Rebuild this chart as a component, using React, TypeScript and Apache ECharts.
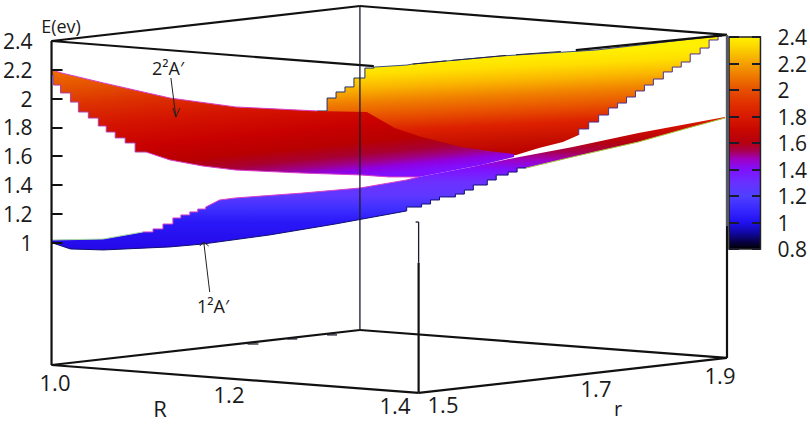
import React, { useEffect, useRef } from "react";
import * as echarts from "echarts";

type Pt = number[];

// Energy ticks on the vertical axis and on the colour box
const energyTicks = [1, 1.2, 1.4, 1.6, 1.8, 2, 2.2, 2.4];
const colorTicks = [0.8, 1, 1.2, 1.4, 1.6, 1.8, 2, 2.2, 2.4];
const bigRLabels = ["1.0", "1.2", "1.4"];
const smallRLabels = ["1.5", "1.7", "1.9"];

// Colour palette of the box: [energy, colour]
const palette: [number, string][] = [
  [2.4, "#fff200"], [2.33, "#fcd800"], [2.2, "#f4a000"], [2.1, "#ee7800"], [2.0, "#e65000"],
  [1.9, "#e03000"], [1.8, "#d81a00"], [1.7, "#c80800"], [1.6, "#b40010"], [1.54, "#a80050"],
  [1.48, "#a000c0"], [1.4, "#8010ff"], [1.3, "#6830ff"], [1.2, "#5040ff"], [1.1, "#3828ff"],
  [1.0, "#2010f0"], [0.92, "#1008a0"], [0.85, "#080040"], [0.8, "#000000"],
];

// Upper surface, rear sheet: [view position, energy]
const rearLeftSteps: Pt[] = [[315, 1.914], [325, 2.004], [334, 2.046], [343, 2.081], [352, 2.143], [363, 2.212], [372, 2.219]];
const rearTop: Pt[] = [[372, 2.219], [405, 2.233], [411, 2.24], [500, 2.296], [595, 2.337], [700, 2.421], [722, 2.435]];
const rearRightSteps: Pt[] = [
  [722, 2.435], [718, 2.407], [709, 2.351], [700, 2.31], [690, 2.254], [681, 2.219], [672, 2.185], [663, 2.136],
  [653, 2.094], [644, 2.053], [635, 2.011], [626, 1.969], [617, 1.935], [608, 1.886], [598, 1.837], [588, 1.789], [578, 1.747],
];
const rearBottom: Pt[] = [[578, 1.747], [562, 1.699], [538, 1.657], [515, 1.608]];
const rearHidden: Pt[] = [[480, 1.588], [315, 1.643]];
const rearStops: [number, string][] = [
  [2.268, "#fff000"], [2.185, "#ffe000"], [2.095, "#fbb800"], [1.991, "#f08000"],
  [1.886, "#e85000"], [1.782, "#dc2000"], [1.678, "#c81000"], [1.574, "#b80000"],
];

// Upper surface, front sheet
const frontTopLeft: Pt[] = [[48, 2.199], [58, 2.178], [100, 2.109], [167, 2.004], [233, 1.942], [315, 1.914]];
const frontFold: Pt[] = [[315, 1.914], [365, 1.907], [393, 1.796], [420, 1.733], [460, 1.664], [487, 1.636], [513, 1.615], [513, 1.595], [480, 1.539], [417, 1.456]];
const frontBottom: Pt[] = [[417, 1.456], [387, 1.456], [358, 1.47], [300, 1.483], [233, 1.504], [200, 1.532], [167, 1.574], [143, 1.629]];
const frontLeftSteps: Pt[] = [
  [143, 1.629], [132, 1.692], [122, 1.727], [112, 1.768], [103, 1.81], [95, 1.865], [85, 1.907], [75, 1.976], [67, 2.039], [57, 2.094], [50, 2.164], [48, 2.199],
];
const frontStops: [number, string][] = [
  [2.407, "#ee7000"], [2.268, "#e45000"], [2.143, "#dc3000"], [1.991, "#d41400"], [1.817, "#c80000"],
  [1.692, "#b80000"], [1.608, "#a80030"], [1.553, "#a00080"], [1.504, "#9000e0"], [1.449, "#8010ff"],
];

// Lower surface
const lowerTopLeft: Pt[] = [[48, 1.018], [100, 1.025], [140, 1.074]];
const lowerTopSteps: Pt[] = [[140, 1.074], [150, 1.095], [160, 1.129], [170, 1.171], [178, 1.192], [187, 1.213], [195, 1.233], [203, 1.247]];
const lowerTopMid: Pt[] = [[203, 1.247], [217, 1.296], [233, 1.31], [300, 1.344], [358, 1.379], [405, 1.435], [417, 1.456]];
const lowerTail: Pt[] = [[417, 1.456], [470, 1.525], [513, 1.588], [572, 1.664], [638, 1.761], [725, 1.872]];
const lowerTailUnder: Pt[] = [[725, 1.865], [688, 1.796], [638, 1.699], [572, 1.595], [525, 1.518]];
const lowerUnderSteps: Pt[] = [
  [525, 1.518], [516, 1.49], [507, 1.469], [495, 1.435], [486, 1.4], [472, 1.365], [463, 1.337], [454, 1.317], [438, 1.296], [429, 1.268], [420, 1.247], [405, 1.22],
];
const lowerUnder: Pt[] = [[405, 1.22], [333, 1.129], [267, 1.053], [200, 0.99], [167, 0.97], [100, 0.949], [67, 0.956], [48, 1.0]];
const lowerStops: [number, string][] = [
  [1.872, "#d81a00"], [1.782, "#cc0c00"], [1.692, "#b40010"], [1.629, "#a80050"], [1.574, "#a000c0"], [1.511, "#8010ff"],
  [1.421, "#6c30ff"], [1.331, "#6038ff"], [1.24, "#4030ff"], [1.143, "#2a18f8"], [0.949, "#2408e8"],
];

// Box edges: [view position, energy] pairs
const boxHeavy: Pt[][] = [
  [[48, 0.15], [417, -0.044]], [[417, -0.044], [727, 0.199]], [[48, 0.15], [358, 0.393]], [[358, 0.393], [727, 0.199]],
  [[48, 2.4], [48, 0.15]], [[727, 1.115], [727, 0.199]], [[417, 0.86], [417, -0.044]],
  [[48, 2.4], [358, 2.643]], [[358, 2.643], [727, 2.442]], [[48, 2.4], [372, 2.225]], [[575, 2.337], [727, 2.442]],
];
const boxThin: Pt[][] = [[[358, 2.643], [358, 0.393]], [[417, 1.143], [417, 0.86]], [[245, 0.296], [256, 0.296]], [[285, 0.331], [295, 0.331]], [[325, 0.359], [335, 0.359]], [[414, 1.143], [417, 1.143]]];
const boxGrey: Pt[][] = [[[727, 2.442], [727, 1.115]]];
const rearDashes: Pt[][] = [[[411, 2.24], [445, 2.262]], [[450, 2.265], [505, 2.3]], [[515, 2.305], [560, 2.327]]];

// Annotation arrows
const arrowUpper: Pt[][] = [[[168, 2.143], [173, 1.872]], [[170, 1.935], [173, 1.872]], [[177, 1.935], [173, 1.872]]];
const arrowLower: Pt[][] = [[[207, 0.657], [201, 1.004]], [[197, 0.976], [201, 1.004]], [[206, 0.976], [201, 1.004]]];

const stairs = (pts: Pt[]): Pt[] => {
  const out: Pt[] = [pts[0]];
  for (let i = 1; i < pts.length; i++) {
    out.push([pts[i][0], pts[i - 1][1]], pts[i]);
  }
  return out;
};

const numFont = "'Open Sans', sans-serif";
const mainGrid = { left: 48, width: 679, top: 5, height: 388.8 };
const barGrid = { left: 729, width: 34, top: 37, height: 212 };

const line = (pts: number[][], stroke: string, lineWidth: number) => ({
  type: "polyline",
  shape: { points: pts },
  style: { fill: "none", stroke, lineWidth },
  silent: true,
});

const App = () => {
  const ref = useRef<HTMLDivElement>(null);
  useEffect(() => {
    const chart = echarts.init(ref.current!, null, { renderer: "svg" });

    const tiltGradient = (api: any, stops: [number, string][], refX: number, slope: number) => {
      const y0 = api.coord([refX, stops[0][0]])[1];
      const y1 = api.coord([refX, stops[stops.length - 1][0]])[1];
      const x0 = api.coord([refX, stops[0][0]])[0];
      const dy = y1 - y0;
      const k = 1 + slope * slope;
      return new echarts.graphic.LinearGradient(
        x0, y0, x0 - (slope * dy) / k, y0 + dy / k,
        stops.map(([e, color]) => ({ offset: (api.coord([refX, e])[1] - y0) / dy, color })),
        true,
      );
    };

    const sheet = (
      outline: Pt[],
      stops: [number, string][],
      refX: number,
      slope: number,
      edges: { pts: Pt[]; color: string }[],
    ) => ({
      type: "custom",
      coordinateSystem: "cartesian2d",
      silent: true,
      z: 3,
      data: [[outline[0][0], outline[0][1]]],
      renderItem: (_: any, api: any) => ({
        type: "group",
        children: [
          {
            type: "polygon",
            shape: { points: outline.map((p) => api.coord(p)) },
            style: { fill: tiltGradient(api, stops, refX, slope) },
          },
          ...edges.map((e) => line(e.pts.map((p) => api.coord(p)), e.color, 1)),
        ],
      }),
    });

    const edgeSeries = (segments: Pt[][], stroke: string, width: number) => ({
      type: "custom",
      coordinateSystem: "cartesian2d",
      silent: true,
      z: 6,
      data: segments.map((s) => [s[0][0], s[0][1]]),
      renderItem: (params: any, api: any) =>
        line(segments[params.dataIndex].map((p) => api.coord(p)), stroke, width),
    });

    const rearOutline = [
      ...stairs(rearLeftSteps), ...rearTop.slice(1), ...stairs(rearRightSteps).slice(1), ...rearBottom.slice(1), ...rearHidden,
    ];
    const frontOutline = [
      ...frontTopLeft, ...frontFold.slice(1), ...frontBottom.slice(1), ...stairs(frontLeftSteps).slice(1),
    ];
    const lowerOutline = [
      ...lowerTopLeft, ...stairs(lowerTopSteps).slice(1), ...lowerTopMid.slice(1), ...lowerTail.slice(1),
      ...lowerTailUnder, ...stairs(lowerUnderSteps).slice(1), ...lowerUnder.slice(1),
    ];

    const labelBase = { fontFamily: numFont, fontSize: 22, lineHeight: 18, fill: "#1a1a1a", align: "center", verticalAlign: "middle" };
    const text = (t: string, x: number, y: number, extra: object = {}) => ({
      type: "text",
      x,
      y,
      silent: true,
      style: { ...labelBase, text: t, ...extra },
    });

    chart.setOption({
      animation: false,
      backgroundColor: "#ffffff",
      grid: [
        { ...mainGrid, show: false },
        { ...barGrid, show: true, borderColor: "#222222", borderWidth: 1.5, backgroundColor: "transparent", z: 5 },
      ],
      xAxis: [
        { type: "value", gridIndex: 0, min: 48, max: 727, show: false },
        { type: "value", gridIndex: 1, min: 0, max: 1, show: false },
      ],
      yAxis: [
        {
          type: "value",
          gridIndex: 0,
          min: -0.05,
          max: 2.65,
          z: 5,
          axisLine: { show: false },
          splitLine: { show: false },
          axisTick: { show: true, inside: true, length: 11, customValues: energyTicks, lineStyle: { color: "#111", width: 2 } },
          axisLabel: {
            show: true,
            margin: 19,
            customValues: energyTicks,
            fontFamily: numFont,
            fontSize: 21,
            lineHeight: 20,
            color: "#1a1a1a",
            formatter: (v: number) => String(Math.round(v * 10) / 10),
          },
        },
        {
          type: "value",
          gridIndex: 1,
          position: "right",
          min: 0.8,
          max: 2.4,
          interval: 0.2,
          z: 5,
          axisLine: { show: false },
          axisTick: { show: false },
          splitLine: { show: true, lineStyle: { color: "#1a1a2a", width: 2, type: [10, 13] } },
          axisLabel: {
            show: true,
            margin: 17,
            customValues: colorTicks,
            fontFamily: numFont,
            fontSize: 21,
            lineHeight: 20,
            color: "#1a1a1a",
            formatter: (v: number) => String(Math.round(v * 10) / 10),
          },
        },
      ],
      series: [
        {
          type: "custom",
          xAxisIndex: 1,
          yAxisIndex: 1,
          silent: true,
          z: 2,
          data: [[0, 2.4]],
          renderItem: (_: any, api: any) => {
            const a = api.coord([0, 2.4]);
            const b = api.coord([1, 0.8]);
            return {
              type: "rect",
              shape: { x: a[0], y: a[1], width: b[0] - a[0], height: b[1] - a[1] },
              style: {
                fill: new echarts.graphic.LinearGradient(
                  0, 0, 0, 1,
                  palette.map(([e, color]) => ({ offset: (2.4 - e) / 1.6, color })),
                ),
              },
            };
          },
        },
        sheet(rearOutline, rearStops, 405, -0.05, [
          { pts: stairs(rearLeftSteps), color: "#203070" },
          { pts: rearTop, color: "#405080" },
          { pts: stairs(rearRightSteps), color: "#503090" },
        ]),
        sheet(lowerOutline, lowerStops, 405, 0, [
          { pts: stairs(lowerTopSteps), color: "#d840c8" },
          { pts: lowerTopMid, color: "#d840c8" },
          { pts: lowerUnder, color: "#101070" },
          { pts: stairs(lowerUnderSteps), color: "#101070" },
          { pts: lowerTailUnder, color: "#a8c840" },
          { pts: lowerTopLeft, color: "#a8d8a0" },
        ]),
        sheet(frontOutline, frontStops, 350, -0.1, [
          { pts: frontTopLeft, color: "#d840c8" },
          { pts: frontBottom, color: "#d840c8" },
          { pts: stairs(frontLeftSteps), color: "#b040b0" },
        ]),
        edgeSeries(boxHeavy, "#111111", 2.2),
        edgeSeries(boxThin, "#1a1a2a", 1.3),
        edgeSeries(boxGrey, "#555a66", 2.4),
        edgeSeries(rearDashes, "#222244", 1),
        edgeSeries(arrowUpper, "#222222", 1),
        edgeSeries(arrowLower, "#222222", 1),
      ],
      graphic: [
        text("E(ev)", 61, 26, { fontSize: 18 }),
        text("2²A′", 168, 68, { fontSize: 18 }),
        text("1²A′", 213, 306, { fontSize: 18 }),
        text(bigRLabels[0], 55, 382),
        text(bigRLabels[1], 229, 394),
        text(bigRLabels[2], 395, 405),
        text("R", 160, 408),
        text(smallRLabels[0], 443, 404),
        text(smallRLabels[1], 596, 388),
        text(smallRLabels[2], 720, 375),
        text("r", 618, 408, { fontSize: 20 }),
      ],
    });
    return () => chart.dispose();
  }, []);
  return <div ref={ref} style={{ position: "absolute", left: 0, top: 0, width: 810, height: 424 }} />;
};

export default App;
